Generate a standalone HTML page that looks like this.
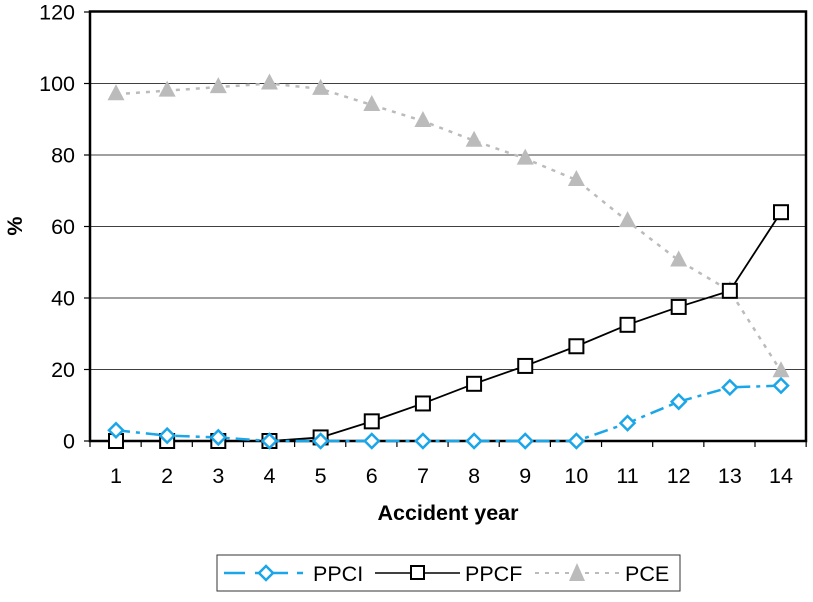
<!DOCTYPE html>
<html><head><meta charset="utf-8"><style>
body{margin:0;background:#fff;}
text{font-family:"Liberation Sans",Arial,sans-serif;fill:#000;}
</style></head><body>
<svg id="s" width="813" height="597" xmlns="http://www.w3.org/2000/svg">
<g stroke="#000" stroke-width="0.8">
<line x1="90" y1="83.5" x2="806" y2="83.5"/>
<line x1="90" y1="155" x2="806" y2="155"/>
<line x1="90" y1="226.5" x2="806" y2="226.5"/>
<line x1="90" y1="298" x2="806" y2="298"/>
<line x1="90" y1="369.5" x2="806" y2="369.5"/>
</g>
<rect x="90" y="11.5" width="716" height="429.5" fill="none" stroke="#000" stroke-width="2.5"/>
<g stroke="#000" stroke-width="1.2" id="ticks"></g>
<g font-size="21.5" text-anchor="end">
<text x="75" y="19.5">120</text><text x="75" y="91">100</text><text x="75" y="162.5">80</text>
<text x="75" y="234">60</text><text x="75" y="305.5">40</text><text x="75" y="377">20</text><text x="75" y="448.5">0</text>
</g>
<g font-size="21.5" text-anchor="middle" id="xl"></g>
<text x="448" y="520" font-size="21.5" font-weight="bold" text-anchor="middle">Accident year</text>
<text x="22" y="226" font-size="21.5" font-weight="bold" text-anchor="middle" transform="rotate(-90 22 226)">%</text>
<g id="series"></g>
<rect x="217" y="555" width="463" height="36" fill="#fff" stroke="#333" stroke-width="1"/>
<line x1="224" y1="573" x2="245" y2="573" stroke="#1aa6e8" stroke-width="2.5"/>
<line x1="255" y1="573" x2="288" y2="573" stroke="#1aa6e8" stroke-width="2.5"/>
<path d="M266 566 L273 573 L266 580 L259 573Z" fill="#fff" stroke="#1aa6e8" stroke-width="2.5"/>
<line x1="297" y1="573" x2="303" y2="573" stroke="#1aa6e8" stroke-width="2.5"/>
<text x="313" y="581" font-size="21.5">PPCI</text>
<line x1="375" y1="573" x2="460" y2="573" stroke="#000" stroke-width="1.5"/>
<rect x="411" y="566" width="13" height="13" fill="#fff" stroke="#000" stroke-width="2"/>
<text x="465" y="581" font-size="21.5">PPCF</text>
<line x1="535" y1="573" x2="620" y2="573" stroke="#bbb" stroke-width="2" stroke-dasharray="4,6"/>
<path d="M577 563 L585 581 L569 581Z" fill="#bbb"/>
<text x="625" y="581" font-size="21.5">PCE</text>
</svg>
<script>
var X=i=>116+(i-1)*51.154,Y=v=>441-v*3.575,ns="http://www.w3.org/2000/svg";
function el(t,a,p){var e=document.createElementNS(ns,t);for(var k in a)e.setAttribute(k,a[k]);document.getElementById(p).appendChild(e);return e;}
for(var i=1;i<=14;i++){var t=el("text",{x:X(i),y:483},"xl");t.textContent=i;}
for(var v=0;v<=120;v+=20)el("line",{x1:84,y1:Y(v),x2:90,y2:Y(v)},"ticks");
for(var i=0;i<=14;i++){var x=90+i*51.154;el("line",{x1:x,y1:441,x2:x,y2:447},"ticks");}
var pce=[97,98,99,100,98.5,94,89.5,84,79,73,61.5,50.5,42,19.5];
var ppcf=[0,0,0,0,1,5.5,10.5,16,21,26.5,32.5,37.5,42,64];
var ppci=[3,1.5,1,0,0,0,0,0,0,0,5,11,15,15.5];
function pts(a){return a.map((v,i)=>X(i+1)+","+Y(v)).join(" ");}
el("polyline",{points:pts(pce),fill:"none",stroke:"#bbb","stroke-width":2.5,"stroke-dasharray":"4,6"},"series");
pce.forEach((v,i)=>{var x=X(i+1),y=Y(v);el("path",{d:`M${x} ${y-10} L${x+8.5} ${y+6} L${x-8.5} ${y+6}Z`,fill:"#bbb"},"series");});
el("polyline",{points:pts(ppcf),fill:"none",stroke:"#000","stroke-width":1.8},"series");
el("polyline",{points:pts(ppci),fill:"none",stroke:"#1aa6e8","stroke-width":2.5,"stroke-dasharray":"14,6,4,6"},"series");
ppcf.forEach((v,i)=>{var x=X(i+1),y=Y(v);el("rect",{x:x-7,y:y-7,width:14,height:14,fill:"#fff",stroke:"#000","stroke-width":2},"series");});
ppci.forEach((v,i)=>{var x=X(i+1),y=Y(v);el("path",{d:`M${x} ${y-7} L${x+7} ${y} L${x} ${y+7} L${x-7} ${y}Z`,fill:"#fff",stroke:"#1aa6e8","stroke-width":2.5},"series");});
</script>
</body></html>
